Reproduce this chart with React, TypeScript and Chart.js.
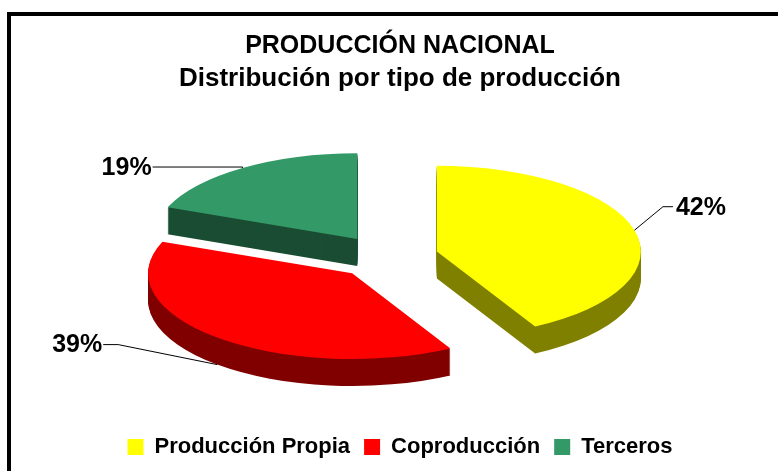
import { useEffect, useRef } from 'react';
import { Chart, registerables } from 'chart.js';

Chart.register(...registerables);

const CATEGORIES = ['Producción Propia', 'Coproducción', 'Terceros'];
const VALUES = [42, 39, 19];
const TITLE_TEXT = 'PRODUCCIÓN NACIONAL';
const SUBTITLE_TEXT = 'Distribución por tipo de producción';
const TOP_COLORS = ['#FFFF00', '#FF0000', '#339966'];
const SIDE_COLORS = ['#808000', '#800000', '#1A4D33'];

const FONT = "'Liberation Sans', Arial, Helvetica, sans-serif";
const TILT = 0.42;
const DEPTH = 27;
const EXPLODE = 52;
const VIEW_SHIFT_X = -13.5;
const VIEW_SHIFT_Y = 0;
const LEADERS = [
  { ex: 28.5, ey: -23.5, tx: 38.5 },
  { ex: -99, ey: -20, tx: -114 },
  { ex: 0, ey: -1, tx: -90 },
];

const midAngle = (a: any) => (a.startAngle + a.endAngle) / 2;

const pie3d = {
  id: 'pie3d',
  beforeDraw(chart: any) {
    const ctx = chart.ctx;
    ctx.save();
    ctx.strokeStyle = '#000';
    ctx.lineWidth = 4;
    ctx.strokeRect(9, 14, 820, 600);
    ctx.restore();
  },
  beforeDatasetsDraw(chart: any) {
    const ctx = chart.ctx;
    const meta = chart.getDatasetMeta(0);
    const arcs = meta.data;
    const order = arcs
      .map((_: any, i: number) => i)
      .sort((i: number, j: number) => Math.sin(midAngle(arcs[i])) - Math.sin(midAngle(arcs[j])));
    for (const i of order) {
      const a = arcs[i];
      const m = midAngle(a);
      const ox = Math.cos(m) * EXPLODE;
      const oy = Math.sin(m) * EXPLODE;
      const saved = a.options;
      for (let d = DEPTH; d >= 0; d--) {
        a.options = { ...saved, borderWidth: 0, backgroundColor: d > 0 ? SIDE_COLORS[i] : saved.backgroundColor };
        ctx.save();
        ctx.translate(a.x + VIEW_SHIFT_X, a.y + VIEW_SHIFT_Y + d);
        ctx.scale(1, TILT);
        ctx.translate(ox - a.x, oy - a.y);
        a.draw(ctx);
        ctx.restore();
      }
      a.options = saved;
    }

    // percentage labels with leader lines
    const total = VALUES.reduce((s, v) => s + v, 0);
    ctx.save();
    ctx.font = `bold 25px ${FONT}`;
    ctx.strokeStyle = '#000';
    ctx.fillStyle = '#000';
    ctx.lineWidth = 1;
    ctx.textBaseline = 'middle';
    arcs.forEach((a: any, i: number) => {
      const m = midAngle(a);
      const cx = a.x + VIEW_SHIFT_X + Math.cos(m) * EXPLODE;
      const cy = a.y + VIEW_SHIFT_Y + Math.sin(m) * EXPLODE * TILT;
      const px = cx + Math.cos(m) * a.outerRadius;
      const py = cy + Math.sin(m) * a.outerRadius * TILT + (Math.sin(m) > 0 ? DEPTH : 0);
      const L = LEADERS[i];
      ctx.beginPath();
      ctx.moveTo(px, py);
      ctx.lineTo(px + L.ex, py + L.ey);
      ctx.lineTo(px + L.tx, py + L.ey);
      ctx.stroke();
      const right = L.tx > 0;
      ctx.textAlign = right ? 'left' : 'right';
      const label = Math.round((VALUES[i] / total) * 100) + '%';
      ctx.fillText(label, px + L.tx + (right ? 3 : -1), py + L.ey + 1);
    });
    ctx.restore();
    return false;
  },
};

export default function App() {
  const ref = useRef<HTMLCanvasElement>(null);
  useEffect(() => {
    if (!ref.current) return;
    Chart.defaults.font.family = FONT;
    const chart = new Chart(ref.current, {
      type: 'pie',
      data: {
        labels: CATEGORIES,
        datasets: [
          {
            data: VALUES,
            backgroundColor: TOP_COLORS,
            borderWidth: 0,
          },
        ],
      },
      options: {
        responsive: false,
        animation: false,
        events: [],
        radius: 204,
        layout: { padding: { top: 0, bottom: 3, left: 0, right: 0 } },
        plugins: {
          tooltip: { enabled: false },
          title: {
            display: true,
            text: TITLE_TEXT,
            color: '#000',
            font: { family: FONT, size: 25, weight: 'bold', lineHeight: 1.2 },
            padding: { top: 31.5, bottom: 0 },
          },
          subtitle: {
            display: true,
            text: SUBTITLE_TEXT,
            color: '#000',
            font: { family: FONT, size: 26, weight: 'bold', lineHeight: 1.2 },
            padding: { top: 2, bottom: -2.8 },
          },
          legend: {
            display: true,
            position: 'bottom',
            labels: {
              color: '#000',
              boxWidth: 16,
              boxHeight: 16,
              padding: 14,
              font: { family: FONT, size: 22, weight: 'bold' },
            },
          },
        },
      } as any,
      plugins: [pie3d],
    });
    return () => chart.destroy();
  }, []);
  return (
    <div style={{ position: 'absolute', left: 0, top: 0, width: 778, height: 471, overflow: 'hidden', background: '#fff' }}>
      <canvas ref={ref} width={800} height={471} style={{ display: 'block', width: 800, height: 471 }} />
    </div>
  );
}
